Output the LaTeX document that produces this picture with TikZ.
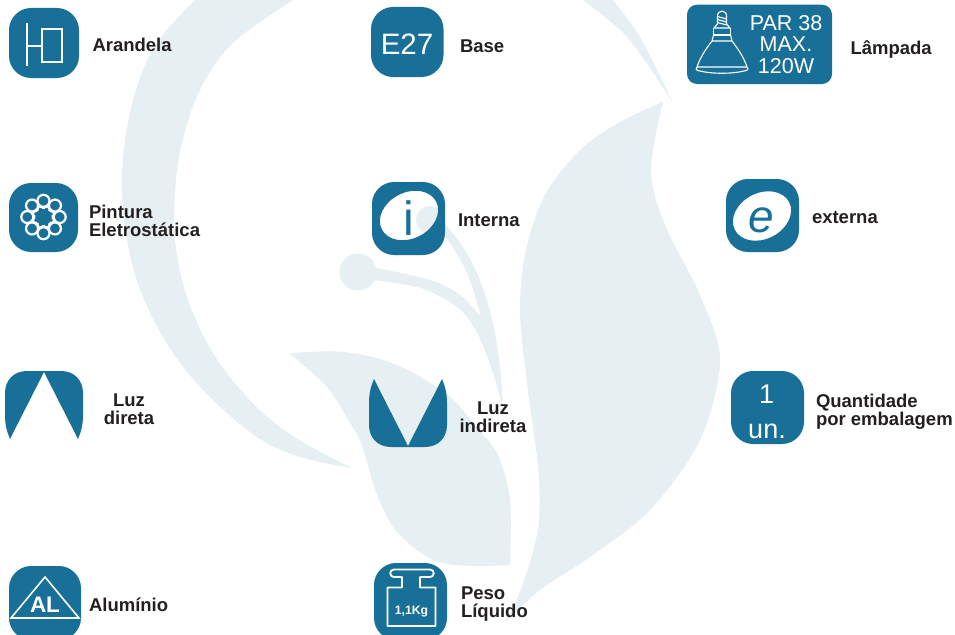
\documentclass[tikz,border=0pt]{standalone}
\usepackage{fontspec}
\setmainfont{Liberation Sans}
\definecolor{iconblue}{HTML}{186F98}
\definecolor{leaf}{HTML}{E6F0F3}
\definecolor{ink}{HTML}{231F20}
\newcommand{\fsz}[1]{\fontsize{#1}{#1}\selectfont}
\newcommand{\iconbox}[4]{(#1+22,#2) -- (#3-22,#2) .. controls (#3-10,#2) and (#3,#2+10) .. (#3,#2+22) -- (#3,#4-22) .. controls (#3,#4-10) and (#3-10,#4) .. (#3-22,#4) -- (#1+22,#4) .. controls (#1+10,#4) and (#1,#4-10) .. (#1,#4-22) -- (#1,#2+22) .. controls (#1,#2+10) and (#1+10,#2) .. (#1+22,#2) -- cycle}
\tikzset{
  lbl/.style={inner sep=0pt,outer sep=0pt,text=ink,font=\fsz{18.5}\bfseries,anchor=base west},
  lblc/.style={inner sep=0pt,outer sep=0pt,text=ink,font=\fsz{18.5}\bfseries,anchor=base},
  wtxt/.style={inner sep=0pt,outer sep=0pt,text=white,anchor=base},
  btxt/.style={inner sep=0pt,outer sep=0pt,text=iconblue,anchor=base},
  wline/.style={draw=white,line width=#1},
  wline/.default=1pt
}
\begin{document}
\begin{tikzpicture}[x=1pt,y=-1pt]
\useasboundingbox (0,0) rectangle (955,634);
\clip (0,0) rectangle (955,634);
% background leaves
\fill[leaf] plot[smooth,tension=0.6] coordinates {(203,-8) (157,43) (133,100) (122,173) (127,240) (143,297) (173,353) (210,397) (257,437) (300,457) (352,468)}
  -- plot[smooth,tension=0.6] coordinates {(352,468) (313,448) (280,427) (247,397) (213,353) (187,297) (175,240) (175,195) (181,147) (200,90) (233,43) (293,0) (305,-8)} -- cycle;
\fill[leaf] plot[smooth] coordinates {(575,-6) (627,37) (673,103)} -- plot[smooth] coordinates {(673,103) (640,37) (608,-6)} -- cycle;
\fill[leaf] plot[smooth,tension=0.55] coordinates {(663,102) (620,122) (580,150) (545,195) (526,250) (520,310) (527,383) (538,467) (539,520) (532,555) (520,592) (505,623)}
  -- plot[smooth,tension=0.55] coordinates {(505,623) (540,590) (590,557) (650,510) (700,440) (720,360) (700,295) (665,225) (651,170) (663,102)} -- cycle;
\fill[leaf] plot[smooth,tension=0.55] coordinates {(289,353) (345,352) (397,365) (448,395) (477,428) (498,455) (510,500) (510,565)}
  -- plot[smooth,tension=0.55] coordinates {(510,565) (470,566) (433,560) (397,532) (377,495) (362,445) (350,423) (327,387) (289,353)} -- cycle;
\fill[leaf] (358,272) circle [radius=18.5];
\fill[leaf] plot[smooth,tension=0.6] coordinates {(372,267) (430,280) (460,295) (481,317)}
  -- plot[smooth,tension=0.6] coordinates {(481,317) (467,273) (445,237) (425,225)}
  -- plot[smooth,tension=0.6] coordinates {(436,208) (447,226) (463,247) (480,280) (493,323) (500,367) (503,410)}
  -- plot[smooth,tension=0.6] coordinates {(503,410) (493,373) (477,333) (457,307) (420,288) (372,280)} -- cycle;
\fill[leaf] (430,220) circle [radius=14];
% Arandela
\fill[iconblue] \iconbox{9}{8}{79}{78};
\draw[wline=2.4pt] (26.7,23) -- (26.7,66) (26.7,46) -- (41.7,46);
\draw[wline=2pt] (41.7,29.3) rectangle (62.3,61.7);
\node[lbl] (arandela) at (92.5,51.5) {Arandela};
% E27
\fill[iconblue] \iconbox{371}{7}{443.5}{77};
\node[wtxt,font=\fsz{29.5}] (e27) at (407,54.5) {E27};
\node[lbl] (base) at (460,52.5) {Base};
% Lampada
\fill[iconblue,rounded corners=10pt] (687,4.7) rectangle (832,84);
\begin{scope}[wline=1.1pt,line join=round]
  \draw (717.5,24) -- (717.5,16) .. controls (717.5,9.5) and (726.5,9.5) .. (726.5,16) -- (726.5,24);
  \draw (717.5,16.5) -- (726.5,19) (717.5,19.5) -- (726.5,22) (717.5,22.5) -- (726.5,25);
  \draw (717.5,24) -- (714,28) -- (730,28) -- (726.5,24);
  \draw (713.5,28) -- (713.5,35) -- (730.5,35) -- (730.5,28);
  \draw (713.5,35) -- (712,41) -- (732,41) -- (730.5,35);
  \draw (712,41) .. controls (705,50) and (700,58) .. (697,67) -- (747,67) .. controls (744,58) and (739,50) .. (732,41);
  \draw (697,67) .. controls (695,70) and (697,70.5) .. (700,71) .. controls (712,74) and (732,74) .. (744,71) .. controls (747,70.5) and (749,70) .. (747,67);
\end{scope}
\node[wtxt,font=\fsz{21.5}] (par) at (786,31) {PAR 38};
\node[wtxt,font=\fsz{21.5}] (max) at (786,52) {MAX.};
\node[wtxt,font=\fsz{21.5}] (w120) at (786,74) {120W};
\node[lbl] (lampada) at (850.5,54.5) {Lâmpada};
% Pintura
\fill[iconblue] \iconbox{9}{183}{78}{252};
\foreach \a in {0,45,...,315}{
  \draw[wline=2.2pt] (43.5,217)++(\a:16.2) circle [radius=6];
  \draw[wline=1.8pt] (43.5,217)++(\a+16:12.5) -- ++(\a+150:8);
  \draw[wline=1.8pt] (43.5,217)++(\a-16:12.5) -- ++(\a-150:8);
}
\fill[iconblue] (43.5,217) circle [radius=6];
\node[lbl,align=left] (pintura) at (89,236) {Pintura\\[-0.5pt]Eletrostática};
% Interna
\fill[iconblue,even odd rule] \iconbox{372}{182}{445}{255} (409,215.5) circle [x radius=30.5,y radius=23,rotate=27];
\node[btxt,font=\fsz{48}] (itxt) at (408.5,235.5) {i};
\node[lbl] (interna) at (458,226) {Interna};
% externa
\fill[iconblue,even odd rule] \iconbox{726}{179}{799}{252} (762,216) circle [x radius=30.5,y radius=23,rotate=27];
\node[btxt,font=\fsz{46}\itshape] (etxt) at (761,232.5) {e};
\node[lbl] (externa) at (812,223) {externa};
% Luz direta
\fill[iconblue] (44,372) -- (78,439) .. controls (81,432) and (83,425) .. (83,415) -- (83,393) .. controls (83,380) and (74,371) .. (61,371) -- (27,371) .. controls (14,371) and (5,380) .. (5,393) -- (5,415) .. controls (5,425) and (7,432) .. (10,439) -- cycle;
\node[lblc,align=center] (direta) at (129,424) {Luz\\[-0.5pt]direta};
% Luz indireta
\fill[iconblue] (408,446) -- (374,379) .. controls (371,386) and (369,393) .. (369,403) -- (369,425) .. controls (369,438) and (378,447) .. (391,447) -- (425,447) .. controls (438,447) and (447,438) .. (447,425) -- (447,403) .. controls (447,393) and (445,386) .. (442,379) -- cycle;
\node[lblc,align=center] (indireta) at (493,432) {Luz\\[-0.5pt]indireta};
% 1 un.
\fill[iconblue] \iconbox{731}{371}{804}{444};
\node[wtxt,font=\fsz{27}] (um) at (766.5,403) {1};
\node[wtxt,font=\fsz{27}] (un) at (767,438) {un.};
\node[lbl,align=left] (quant) at (816,425) {Quantidade\\[-0.5pt]por embalagem};
% Aluminio
\fill[iconblue] \iconbox{9}{566}{81}{640};
\draw[wline=1.6pt,line join=miter] (45,577) -- (79,618) -- (11,618) -- cycle;
\node[wtxt,font=\fsz{22.5}\bfseries] (al) at (45,612) {AL};
\node[lbl] (aluminio) at (89,611) {Alumínio};
% Peso
\fill[iconblue] \iconbox{374}{563}{447}{640};
\draw[wline=1.8pt,line join=round] (402,577) -- (394,577) .. controls (389,577) and (389,569.5) .. (394,569.5) -- (430,569.5) .. controls (435,569.5) and (435,577) .. (430,577) -- (420,577) -- (420,587.5) -- (435.5,587.5) -- (435.5,626) -- (387.5,626) -- (387.5,587.5) -- (402,587.5) -- cycle;
\node[wtxt,font=\fsz{12.2}\bfseries] (kg) at (411.5,614) {1,1Kg};
\node[lbl,align=left] (peso) at (461,617) {Peso\\[-0.5pt]Líquido};
\end{tikzpicture}
\end{document}
